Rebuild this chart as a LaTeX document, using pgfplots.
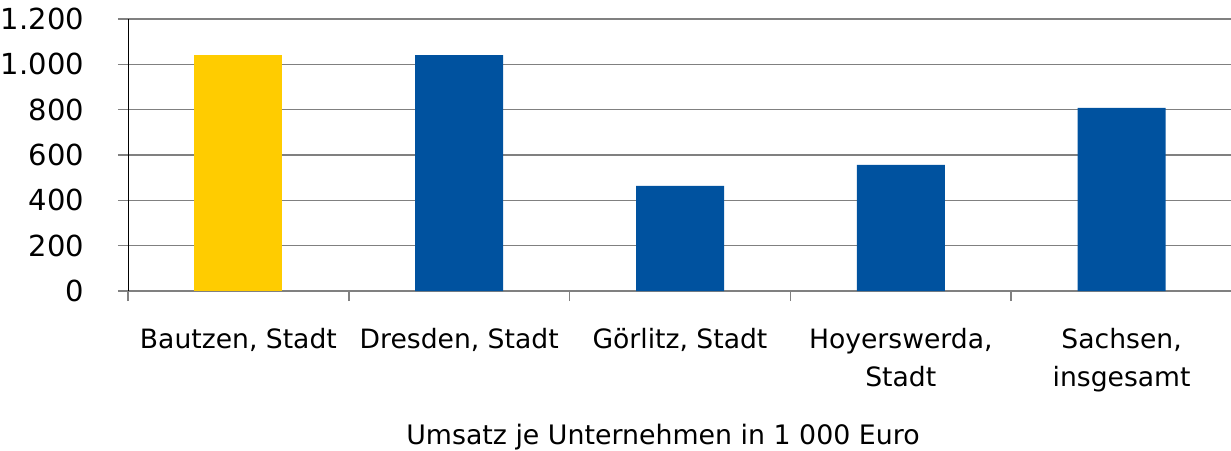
\documentclass[border=0pt]{standalone}
\usepackage{fontspec}
\setmainfont{DejaVu Sans}
\usepackage{pgfplots}
\pgfplotsset{compat=1.18}
\definecolor{barblue}{RGB}{0,82,159}
\definecolor{baryellow}{RGB}{255,204,0}
\definecolor{gridgray}{RGB}{128,128,128}
\begin{document}
\begin{tikzpicture}[x=1pt,y=1pt]
\path[use as bounding box] (0,0) rectangle (615.5,225);
\begin{axis}[
  at={(64pt,79.5pt)}, anchor=south west,
  scale only axis, width=552pt, height=136pt,
  font=\fontsize{13.3}{19}\selectfont,
  xmin=-0.5, xmax=4.5, ymin=0, ymax=1200,
  ytick={0,200,...,1200},
  xtick={0,1,2,3,4},
  xticklabels={{Bautzen, Stadt},{Dresden, Stadt},{Görlitz, Stadt},{Hoyerswerda,\\Stadt},{Sachsen,\\insgesamt}},
  minor xtick={-0.5,0.5,1.5,2.5,3.5},
  x tick label style={align=center, yshift=-10pt},
  major x tick style={draw=none},
  minor x tick style={draw=gridgray, thick},
  y tick style={draw=gridgray, thick},
  tick align=outside,
  major tick length=5pt, minor tick length=5pt,
  axis x line*=bottom, axis y line*=left,
  x axis line style={draw=gridgray, thick, -},
  y axis line style={draw=black, -},
  ymajorgrids, grid style={draw=gridgray, thick},
  /pgf/number format/assume math mode=true,
  /pgf/number format/1000 sep={.},
  y tick label style={xshift=-13.5pt, font=\fontsize{14.5}{17}\selectfont},
  xlabel={Umsatz je Unternehmen in 1 000 Euro},
  xlabel style={at={(rel axis cs:0.4846,0)}, anchor=north, yshift=-63pt, font=\fontsize{13.4}{16}\selectfont},
  ybar, bar width=44pt, bar shift=0pt,
  clip=false,
]
\addplot[fill=baryellow, draw=none] coordinates {(0,1042)};
\addplot[fill=barblue, draw=none] coordinates {(1,1041) (2,464) (3,556) (4,808)};
\end{axis}
\end{tikzpicture}
\end{document}
